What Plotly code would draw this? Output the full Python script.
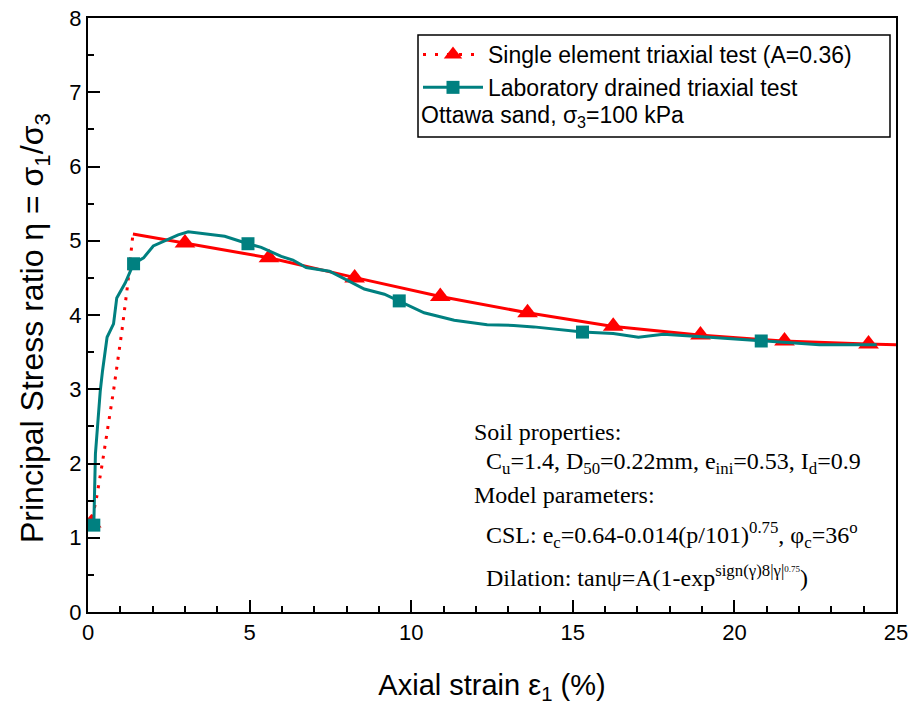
import plotly.graph_objects as go

# ---- data ----
model_rise_x = [0.06, 0.25, 0.43, 0.79, 1.05, 1.23, 1.39]
model_rise_y = [1.14, 1.50, 1.97, 2.98, 3.79, 4.42, 5.09]
model_soft_x = [1.39, 3.0, 5.6, 8.2, 10.9, 13.6, 16.2, 18.9, 21.5, 24.1, 25.0]
model_soft_y = [5.09, 4.97, 4.77, 4.51, 4.25, 4.03, 3.85, 3.73, 3.65, 3.61, 3.60]
model_mk_x = [0.1, 3.0, 5.6, 8.25, 10.9, 13.6, 16.25, 18.95, 21.55, 24.15]
model_mk_y = [1.2, 4.97, 4.77, 4.50, 4.25, 4.03, 3.85, 3.73, 3.65, 3.61]

lab_x = [0.18, 0.23, 0.38, 0.45, 0.59, 0.79, 0.89, 1.15, 1.41, 1.72, 2.02, 2.49, 2.79,
         3.10, 4.23, 4.95, 5.36, 5.98, 6.34, 6.75, 7.47, 7.88, 8.55, 9.17, 9.63, 10.40,
         11.33, 12.35, 13.17, 13.79, 15.30, 16.25, 17.03, 17.80, 19.23, 20.83, 21.60,
         22.63, 23.75, 24.4]
lab_y = [1.17, 2.13, 2.98, 3.25, 3.70, 3.88, 4.23, 4.43, 4.69, 4.77, 4.93, 5.02, 5.08,
         5.12, 5.06, 4.96, 4.91, 4.79, 4.74, 4.64, 4.59, 4.50, 4.35, 4.28, 4.19, 4.03,
         3.93, 3.87, 3.86, 3.84, 3.77, 3.75, 3.70, 3.74, 3.70, 3.65, 3.63,
         3.60, 3.60, 3.60]
lab_mk_x = [0.18, 1.41, 4.95, 9.63, 15.30, 20.83]
lab_mk_y = [1.17, 4.69, 4.96, 4.19, 3.77, 3.65]

x_ticks = [0, 5, 10, 15, 20, 25]
y_ticks = [0, 1, 2, 3, 4, 5, 6, 7, 8]

RED = "#FF0000"
TEAL = "#008080"
SANS = "Liberation Sans, Arial, sans-serif"
SERIF = "Liberation Serif, Times New Roman, serif"

W, H = 909, 705
L, R, T, B = 88, 13, 18, 93
pw, ph = W - L - R, H - T - B


def px(x):
    return (x - L) / pw


def py(y):
    return (H - B - y) / ph


fig = go.Figure()

fig.add_trace(go.Scatter(x=model_rise_x, y=model_rise_y, mode="lines",
                         line=dict(color=RED, width=3, dash="3px,7px"), showlegend=False))
fig.add_trace(go.Scatter(x=model_soft_x, y=model_soft_y, mode="lines",
                         line=dict(color=RED, width=3), showlegend=False))
fig.add_trace(go.Scatter(x=model_mk_x, y=model_mk_y, mode="markers",
                         marker=dict(symbol="triangle-up", size=18, color=RED),
                         showlegend=False))
fig.add_trace(go.Scatter(x=lab_x, y=lab_y, mode="lines",
                         line=dict(color=TEAL, width=3), showlegend=False))
fig.add_trace(go.Scatter(x=lab_mk_x, y=lab_mk_y, mode="markers",
                         marker=dict(symbol="square", size=13, color=TEAL),
                         showlegend=False))

# legend entries
fig.add_trace(go.Scatter(x=[None], y=[None], mode="lines+markers",
                         name="Single element triaxial test (A=0.36)",
                         line=dict(color=RED, width=3, dash="3px,9px"),
                         marker=dict(symbol="triangle-up", size=17, color=RED)))
fig.add_trace(go.Scatter(x=[None], y=[None], mode="lines+markers",
                         name="Laboratory drained triaxial test",
                         line=dict(color=TEAL, width=3),
                         marker=dict(symbol="square", size=13, color=TEAL)))

axis_common = dict(showline=True, linewidth=2, linecolor="black", mirror=True,
                   ticks="inside", ticklen=12, tickwidth=1.5, tickcolor="black",
                   showgrid=False, zeroline=False, automargin=False,
                   tickfont=dict(family=SANS, size=22, color="black"))

fig.update_xaxes(range=[0, 25], tickvals=x_ticks,
                 minor=dict(ticks="inside", ticklen=6, tickwidth=1.5, dtick=1,
                            tickcolor="black", showgrid=False),
                 title=dict(text="Axial strain ε<sub>1</sub> (%)",
                            font=dict(family=SANS, size=29, color="black"), standoff=31),
                 **axis_common)
fig.update_yaxes(range=[0, 8], tickvals=y_ticks,
                 minor=dict(ticks="inside", ticklen=6, tickwidth=1.5, dtick=0.5,
                            tickcolor="black", showgrid=False),
                 **axis_common)

ann = []
# y-axis title (as rotated annotation so it can be centred like the reference)
ann.append(dict(text="Principal Stress ratio η = σ<sub>1</sub>/σ<sub>3</sub>",
                x=px(34), y=py(328), xanchor="center", yanchor="middle", textangle=-90,
                font=dict(family=SANS, size=32)))
ann.append(dict(text="Ottawa sand, σ<sub>3</sub>=100 kPa", x=px(419), y=py(117),
                xanchor="left", yanchor="middle", font=dict(family=SANS, size=23)))
serif_lines = [
    ("Soil properties:", 472, 432),
    ("C<sub>u</sub>=1.4, D<sub>50</sub>=0.22mm, e<sub>ini</sub>=0.53, I<sub>d</sub>=0.9", 484, 463),
    ("Model parameters:", 472, 495),
    ("CSL: e<sub>c</sub>=0.64-0.014(p/101)<sup>0.75</sup>, φ<sub>c</sub>=36<sup>o</sup>", 484, 535),
    ("Dilation: tanψ=A(1-exp<sup>sign(γ)8|γ|<span style='font-size:9px;baseline-shift:45%'>0.75</span></sup>)", 484, 576),
]
for txt, xx, yy in serif_lines:
    ann.append(dict(text=txt, x=px(xx), y=py(yy), xanchor="left", yanchor="middle",
                    font=dict(family=SERIF, size=24)))
for a in ann:
    a.update(xref="paper", yref="paper", showarrow=False)
    a["font"]["color"] = "black"

fig.update_layout(
    width=W, height=H,
    margin=dict(l=L, r=R, t=T, b=B),
    plot_bgcolor="white", paper_bgcolor="white",
    annotations=ann,
    shapes=[dict(type="rect", xref="paper", yref="paper",
                 x0=px(418), x1=px(890), y0=py(137), y1=py(35),
                 line=dict(color="black", width=1.5))],
    legend=dict(x=px(418), y=py(33), xanchor="left", yanchor="top",
                bgcolor="rgba(0,0,0,0)", borderwidth=0, itemwidth=60,
                font=dict(family=SANS, size=23, color="black"), tracegroupgap=0),
)

fig.write_html("out.html", config={"displayModeBar": False},
               post_script="document.body.style.margin='0';document.body.style.overflow='hidden';")
